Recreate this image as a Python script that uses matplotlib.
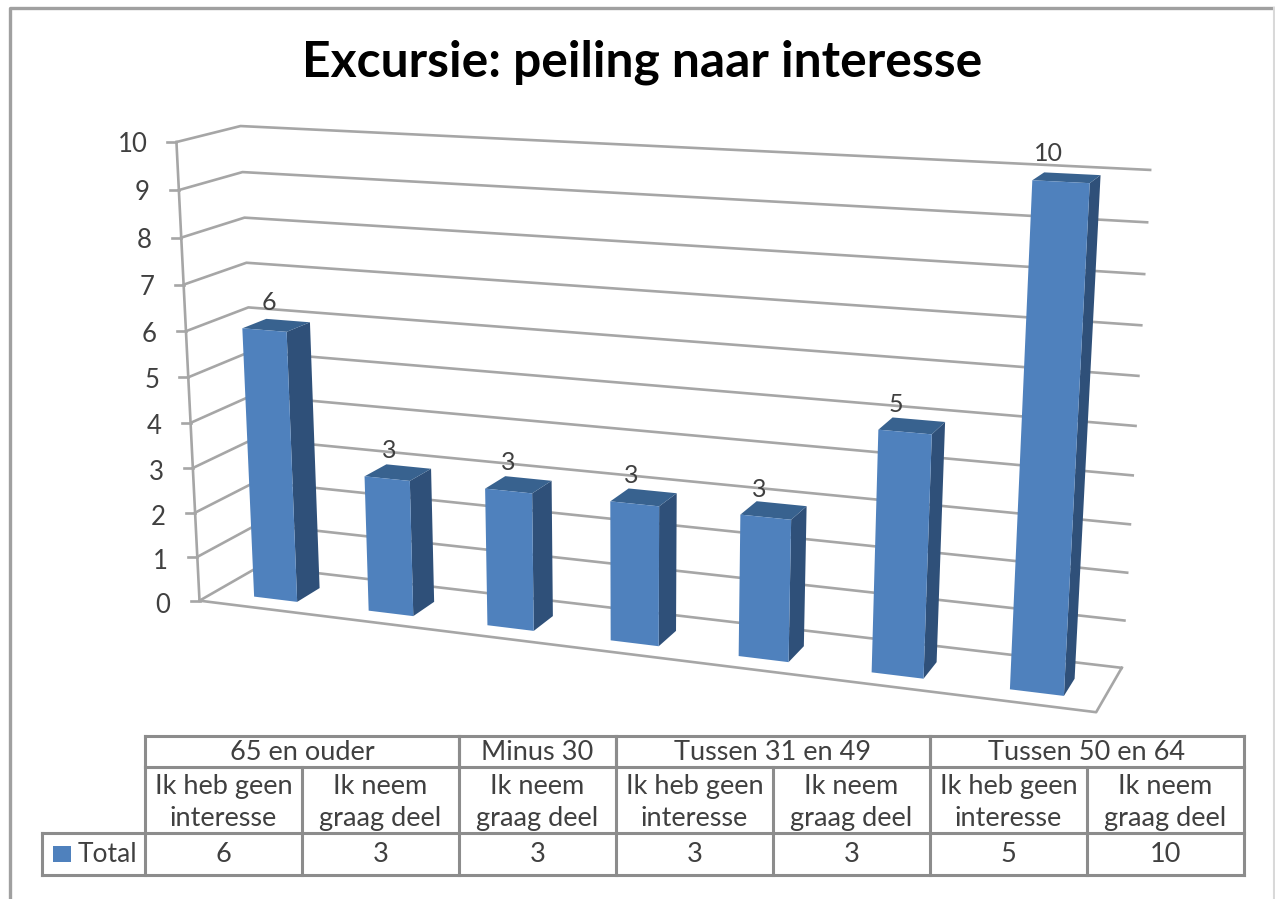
"""Excursie chart: 3D column look with a data table underneath."""
import matplotlib
matplotlib.use("Agg")
import matplotlib.pyplot as plt
import numpy as np
from matplotlib.patches import Polygon, Rectangle

TITLE = "Excursie: peiling naar interesse"
GROUPS = ["65 en ouder", "Minus 30", "Tussen 31 en 49", "Tussen 50 en 64"]
GROUP_SPANS = [2, 1, 2, 2]
ANSWERS = ["Ik heb geen\ninteresse", "Ik neem\ngraag deel", "Ik neem\ngraag deel",
           "Ik heb geen\ninteresse", "Ik neem\ngraag deel",
           "Ik heb geen\ninteresse", "Ik neem\ngraag deel"]
VALUES = [6, 3, 3, 3, 3, 5, 10]
SERIES = "Total"
Y_TICKS = list(range(0, 11))

FRONT = "#4f81bd"
DARK = "#2f5079"
TOP = "#38628f"
GRID = "#a6a6a6"
TEXT = "#404040"
FONT = "Lato"

plt.rcParams["font.family"] = [FONT, "DejaVu Sans"]

# perspective camera fitted on the corners of the 3D box, (cat, value, depth) -> pixel
BOX = [
    ((0, 0, 0), (201, 600)), ((0, 10, 0), (175, 142)),
    ((0, 0, 1), (258, 567)), ((0, 10, 1), (242, 126)),
    ((7, 0, 1), (1122, 667)), ((7, 10, 1), (1150, 170)),
    ((7, 0, 0), (1096, 713)),
]


def fit_camera(pairs):
    rows, rhs = [], []
    for (x, y, z), (u, v) in pairs:
        rows.append([x, y, z, 1, 0, 0, 0, 0, -u * x, -u * y, -u * z])
        rows.append([0, 0, 0, 0, x, y, z, 1, -v * x, -v * y, -v * z])
        rhs += [u, v]
    p = np.linalg.lstsq(np.array(rows, float), np.array(rhs, float), rcond=None)[0]
    return np.append(p, 1).reshape(3, 4)


CAM = fit_camera(BOX)


def proj(x, y, z):
    u, v, w = CAM @ np.array([x, y, z, 1.0])
    return u / w, v / w


fig = plt.figure(figsize=(12.75, 8.99), dpi=100)
ax = fig.add_axes([0, 0, 1, 1])
ax.set_xlim(0, 1275)
ax.set_ylim(899, 0)
ax.axis("off")

# chart frame, open at the bottom; the right edge is only a faint line
ax.plot([10, 10, 1275], [899, 8, 8], color="#a0a0a0", lw=2.4, zorder=1)
ax.plot([1274, 1274], [8, 899], color="#d9d9d9", lw=1.5, zorder=1)

ax.text(642, 62, TITLE, ha="center", va="center", fontsize=35.8, fontweight="bold",
        color="black")

# walls and floor
for t in Y_TICKS:
    pts = [proj(0, t, 0), proj(0, t, 1), proj(7, t, 1)]
    ax.plot(*zip(*pts), color=GRID, lw=1.9, zorder=2)
    x0, y0 = proj(0, t, 0)
    ax.plot([x0 - 9, x0], [y0, y0], color=GRID, lw=1.9, zorder=2)
    ax.text(x0 - 29, y0 + 2 + (10 - t) * 0.3, str(t), ha="right", va="center", fontsize=18.5,
            color=TEXT, zorder=5)
ax.plot(*zip(proj(0, 0, 0), proj(0, 10, 0)), color=GRID, lw=1.9, zorder=2)
ax.plot(*zip(proj(0, 0, 0), proj(7, 0, 0), proj(7, 0, 1)), color=GRID, lw=1.9, zorder=2)

# columns
BAR_W = 0.19
BAR_C = 0.54
Z0, Z1 = 0.25, 0.64
for i, val in enumerate(VALUES):
    xa, xb = i + BAR_C - BAR_W, i + BAR_C + BAR_W
    front = [proj(xa, val, Z0), proj(xb, val, Z0), proj(xb, 0, Z0), proj(xa, 0, Z0)]
    side = [proj(xb, val, Z0), proj(xb, val, Z1), proj(xb, 0, Z1), proj(xb, 0, Z0)]
    top = [proj(xa, val, Z0), proj(xb, val, Z0), proj(xb, val, Z1), proj(xa, val, Z1)]
    ax.add_patch(Polygon(side, fc=DARK, ec="none", zorder=3))
    ax.add_patch(Polygon(top, fc=TOP, ec="none", zorder=3))
    ax.add_patch(Polygon(front, fc=FRONT, ec="none", zorder=4))
    lx, ly = proj(i + BAR_C, val, Z0)
    # labels drift left of the column centre towards the right of the chart
    ax.text(lx + 5 - 2.9 * i, ly - 28, str(val), ha="center", va="center", fontsize=18,
            color=TEXT, zorder=5)

# data table
COL_X = [145 + 157 * i for i in range(8)]
ROW_Y = [736, 767, 833, 875]
LEGEND_X = 42
tkw = dict(color="#8c8c8c", lw=2.2, zorder=2)
ax.plot([COL_X[0], COL_X[-1]], [ROW_Y[0]] * 2, **tkw)
ax.plot([COL_X[0], COL_X[-1]], [ROW_Y[1]] * 2, **tkw)
ax.plot([LEGEND_X, COL_X[-1]], [ROW_Y[2]] * 2, **tkw)
ax.plot([LEGEND_X, COL_X[-1]], [ROW_Y[3]] * 2, **tkw)
ax.plot([LEGEND_X, LEGEND_X], [ROW_Y[2], ROW_Y[3]], **tkw)
for x in COL_X:
    ax.plot([x, x], [ROW_Y[1], ROW_Y[3]], **tkw)

start = 0
for name, span in zip(GROUPS, GROUP_SPANS):
    xa, xb = COL_X[start], COL_X[start + span]
    ax.plot([xa, xa], [ROW_Y[0], ROW_Y[1]], **tkw)
    ax.plot([xb, xb], [ROW_Y[0], ROW_Y[1]], **tkw)
    ax.text((xa + xb) / 2, (ROW_Y[0] + ROW_Y[1]) / 2 + 1.5, name, ha="center", va="center",
            fontsize=19.5, color=TEXT)
    start += span

for i, (ans, val) in enumerate(zip(ANSWERS, VALUES)):
    cx = (COL_X[i] + COL_X[i + 1]) / 2
    ax.text(cx, (ROW_Y[1] + ROW_Y[2]) / 2 + 2.5, ans, ha="center", va="center", fontsize=19.5,
            color=TEXT, linespacing=1.32)
    ax.text(cx, (ROW_Y[2] + ROW_Y[3]) / 2, str(val), ha="center", va="center", fontsize=19.5,
            color=TEXT)

ax.add_patch(Rectangle((53, 846), 18, 16, fc=FRONT, ec="none", zorder=3))
ax.text(78, 854, SERIES, ha="left", va="center", fontsize=19, color=TEXT)

fig.savefig("out.png", dpi=100)
